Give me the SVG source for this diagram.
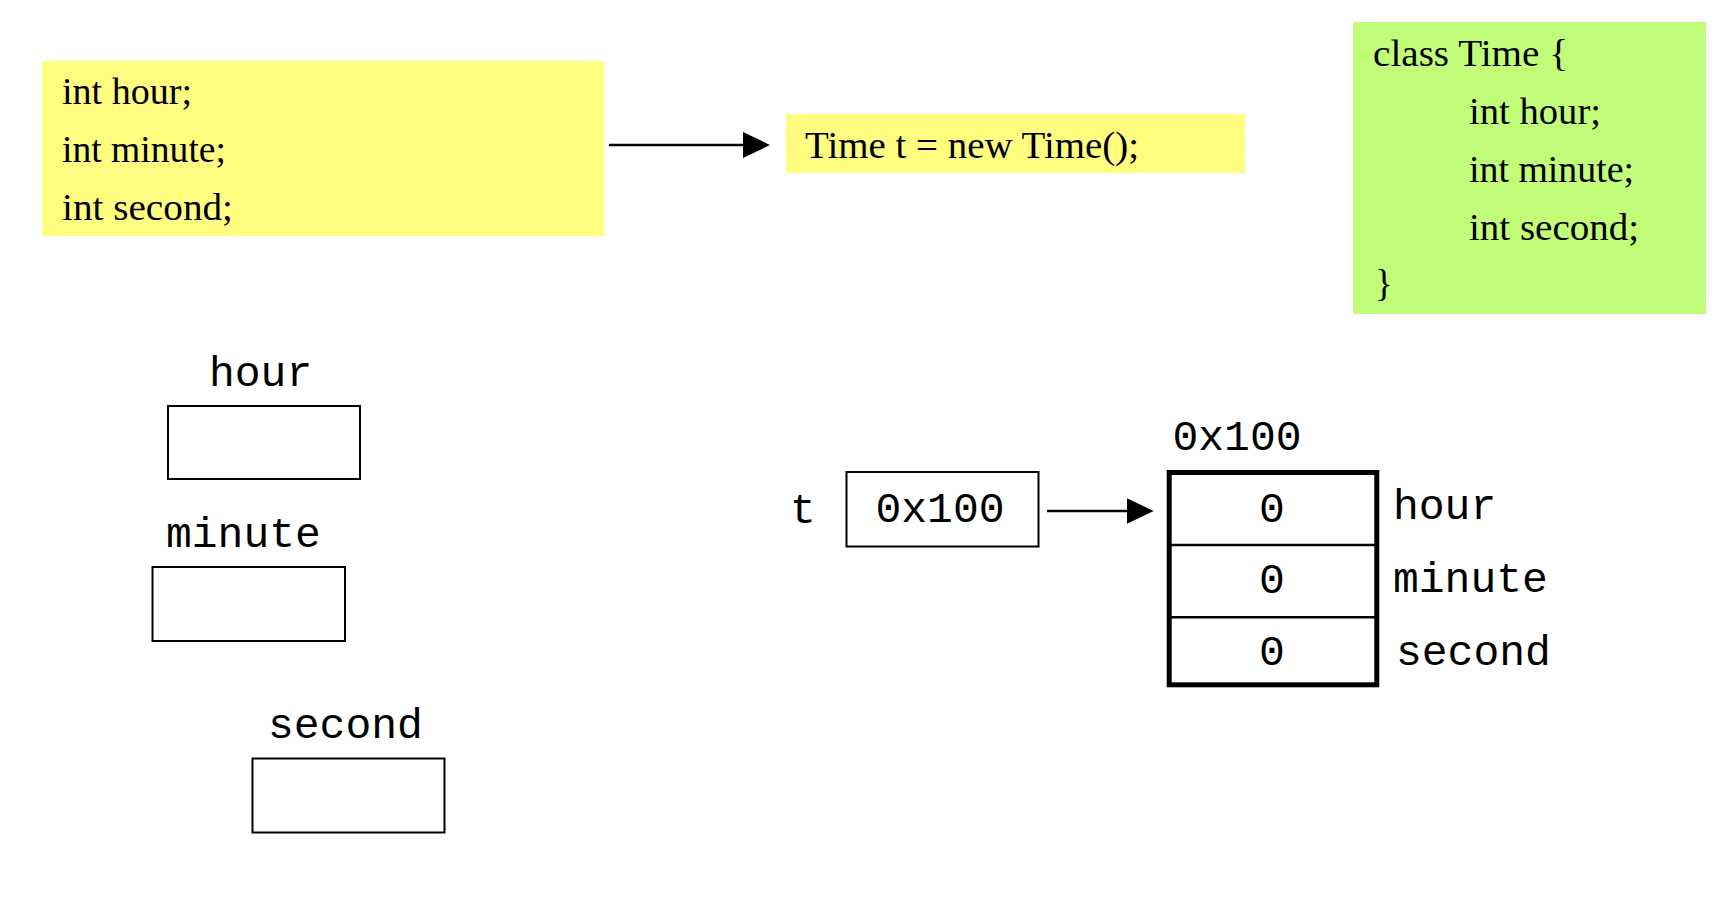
<svg xmlns="http://www.w3.org/2000/svg" width="1728" height="922" viewBox="0 0 1728 922">
  <style>
    .serif { font-family: "Liberation Serif", "Times New Roman", serif; font-size: 37px; fill: #000; }
    .mono { font-family: "Liberation Mono", "Courier New", monospace; font-size: 43px; fill: #000; }
    .cell { fill: #fff; stroke: #000; stroke-width: 2; }
    .conn { stroke: #000; stroke-width: 2.5; fill: none; }
  </style>
  <defs>
    <marker id="arrow" markerUnits="userSpaceOnUse" markerWidth="28" markerHeight="26" refX="2" refY="13" orient="auto">
      <path d="M0,0 L27,13 L0,26 Z" fill="#000"/>
    </marker>
  </defs>
  <rect width="1728" height="922" fill="#fff"/>

  <g id="fields-code">
    <rect x="42" y="61" width="562" height="175" fill="#FFFD80"/>
    <text class="serif" x="62" y="104" textLength="130" lengthAdjust="spacingAndGlyphs">int hour;</text>
    <text class="serif" x="62" y="162" textLength="164" lengthAdjust="spacingAndGlyphs">int minute;</text>
    <text class="serif" x="62" y="219.5" textLength="171" lengthAdjust="spacingAndGlyphs">int second;</text>
  </g>

  <g id="new-time">
    <rect x="786" y="114" width="459" height="59" fill="#FFFD80"/>
    <text class="serif" x="805" y="158" textLength="334" lengthAdjust="spacingAndGlyphs">Time t = new Time();</text>
  </g>

  <g id="class-time">
    <rect x="1353" y="22" width="353" height="292" fill="#C1FD78"/>
    <text class="serif" x="1373" y="66" textLength="195" lengthAdjust="spacingAndGlyphs">class Time {</text>
    <text class="serif" x="1469" y="124" textLength="132" lengthAdjust="spacingAndGlyphs">int hour;</text>
    <text class="serif" x="1469" y="182" textLength="165" lengthAdjust="spacingAndGlyphs">int minute;</text>
    <text class="serif" x="1469" y="240" textLength="170" lengthAdjust="spacingAndGlyphs">int second;</text>
    <text class="serif" x="1375" y="296">}</text>
  </g>

  <g id="var-hour">
    <text class="mono" x="209" y="386">hour</text>
    <rect class="cell" x="168" y="406" width="192" height="73"/>
  </g>
  <g id="var-minute">
    <text class="mono" x="166" y="547">minute</text>
    <rect class="cell" x="152.5" y="567" width="192.5" height="74"/>
  </g>
  <g id="var-second">
    <text class="mono" x="268" y="738">second</text>
    <rect class="cell" x="252.5" y="758.5" width="192" height="74"/>
  </g>

  <g id="ref-t">
    <text class="mono" x="790" y="522.5">t</text>
    <rect class="cell" x="846.5" y="472" width="192" height="74.5"/>
    <text class="mono" x="940" y="522" text-anchor="middle">0x100</text>
  </g>

  <g id="object">
    <text class="mono" x="1237" y="450" text-anchor="middle">0x100</text>
    <rect x="1169.2" y="472.5" width="207.6" height="212.3" fill="#fff" stroke="#000" stroke-width="5"/>
    <line x1="1169" y1="545" x2="1377" y2="545" stroke="#000" stroke-width="2.5"/>
    <line x1="1169" y1="617.3" x2="1377" y2="617.3" stroke="#000" stroke-width="2.5"/>
    <text class="mono" x="1272" y="521.7" text-anchor="middle">0</text>
    <text class="mono" x="1272" y="593.3" text-anchor="middle">0</text>
    <text class="mono" x="1272" y="665" text-anchor="middle">0</text>
    <text class="mono" x="1393" y="518.5">hour</text>
    <text class="mono" x="1393" y="591.5">minute</text>
    <text class="mono" x="1396" y="665">second</text>
  </g>

  <g id="connectors">
    <line class="conn" x1="609" y1="145" x2="745" y2="145" marker-end="url(#arrow)"/>
    <line class="conn" x1="1047" y1="511" x2="1128.7" y2="511" marker-end="url(#arrow)"/>
  </g>
</svg>
